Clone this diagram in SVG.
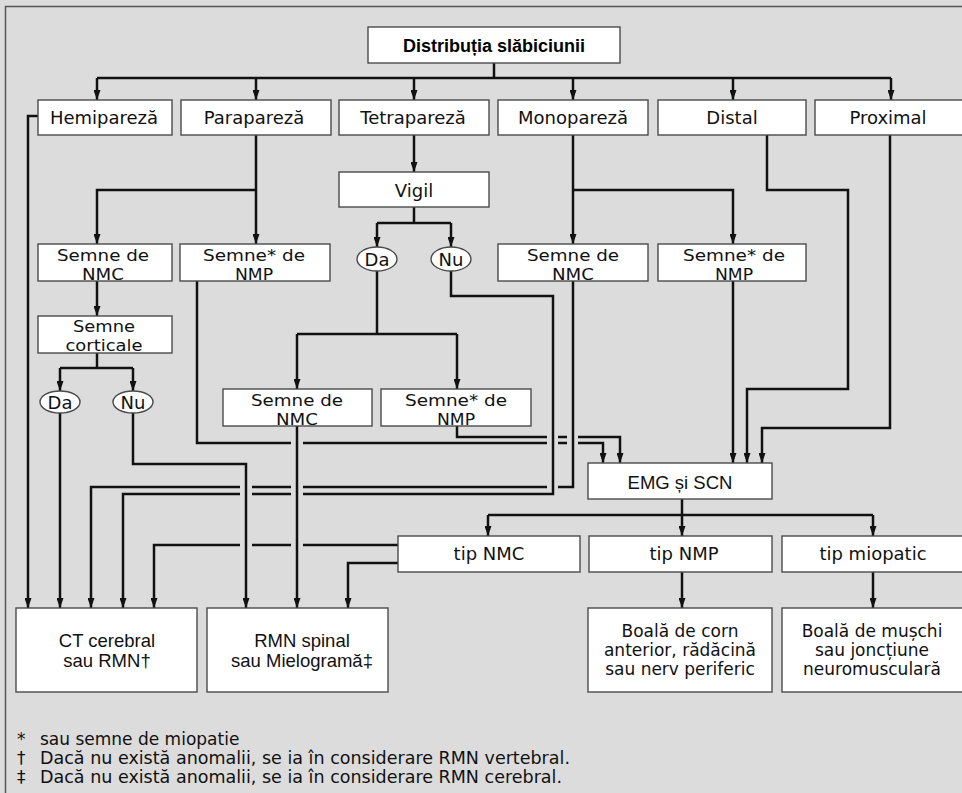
<svg xmlns="http://www.w3.org/2000/svg" width="962" height="793" viewBox="0 0 962 793">
  <style>
    .box { fill: #ffffff; stroke: #4a4a4a; stroke-width: 1.4; }
    .oval { fill: #ffffff; stroke: #4a4a4a; stroke-width: 1.4; }
    .t { font-family: "DejaVu Sans", sans-serif; font-size: 18px; fill: #111; text-anchor: middle; }
    .t2 { font-family: "DejaVu Sans", sans-serif; font-size: 17px; fill: #111; text-anchor: middle; }
    .t3 { font-family: "DejaVu Sans", sans-serif; font-size: 16px; fill: #111; text-anchor: middle; }
    .h { font-family: "Liberation Sans", Arial, sans-serif; font-size: 18.5px; fill: #111; text-anchor: middle; }
    .title { font-family: "Liberation Sans", Arial, sans-serif; font-size: 18px; font-weight: bold; fill: #000; text-anchor: middle; }
    .note { font-family: "DejaVu Sans", sans-serif; font-size: 17px; fill: #111; }
    .ln { fill: none; stroke: #111; stroke-width: 2.5; stroke-linejoin: miter; }
    .ar { marker-end: url(#ah); }
  </style>
  <defs>
    <marker id="ah" markerUnits="userSpaceOnUse" markerWidth="10" markerHeight="7" viewBox="0 0 10 7" refX="10" refY="3.5" orient="auto">
      <path d="M0,0 L10,3.5 L0,7 z" fill="#111"/>
    </marker>
  </defs>

  <!-- background and frame -->
  <rect x="0" y="0" width="962" height="793" fill="#dcdcdc"/>
  <path d="M5.5,800 V6.5 H962" fill="none" stroke="#555" stroke-width="1.5"/>

  <!-- connectors -->
  <g id="connectors">
    <!-- top distribution bus -->
    <path class="ln" d="M494,63 V78 M97,78 H891"/>
    <path class="ln ar" d="M97,78 V100"/>
    <path class="ln ar" d="M256,78 V100"/>
    <path class="ln ar" d="M414,78 V100"/>
    <path class="ln ar" d="M573,78 V100"/>
    <path class="ln ar" d="M733,78 V100"/>
    <path class="ln ar" d="M891,78 V100"/>

    <!-- Hemipareza -->
    <path class="ln ar" d="M38,116 H28 V608"/>

    <!-- Parapareza -->
    <path class="ln ar" d="M256,135 V244"/>
    <path class="ln ar" d="M256,190 H97 V244"/>
    <path class="ln ar" d="M97,281 V316"/>
    <path class="ln" d="M97,353 V368 M60,368 H133"/>
    <path class="ln ar" d="M60,368 V391"/>
    <path class="ln ar" d="M133,368 V391"/>
    <path class="ln ar" d="M60,413 V608"/>
    <path class="ln ar" d="M133,413 V464 H246 V608"/>

    <!-- Tetrapareza -->
    <path class="ln ar" d="M414,135 V172"/>
    <path class="ln" d="M414,207 V223 M377,223 H451"/>
    <path class="ln ar" d="M377,223 V247"/>
    <path class="ln ar" d="M451,223 V247"/>
    <path class="ln" d="M377,271 V334 M297,334 H457"/>
    <path class="ln ar" d="M297,334 V389"/>
    <path class="ln ar" d="M457,334 V389"/>
    <path class="ln ar" d="M297,426 V608"/>

    <!-- Monopareza -->
    <path class="ln ar" d="M573,135 V244"/>
    <path class="ln ar" d="M573,190 H733 V244"/>

    <!-- paths into EMG -->
    <path class="ln ar" d="M197,281 V443 H291 M303,443 H547 M558,443 H567 M578,443 H603 V463"/>
    <path class="ln ar" d="M457,426 V437 H547 M558,437 H567 M578,437 H620 V463"/>
    <path class="ln ar" d="M733,281 V463"/>
    <path class="ln ar" d="M767,135 V190 H848 V389 H747 V463"/>
    <path class="ln ar" d="M890,135 V428 H762 V463"/>

    <!-- paths into CT cerebral -->
    <path class="ln ar" d="M573,281 V487 H558 M547,487 H303 M291,487 H252 M240,487 H91 V608"/>
    <path class="ln ar" d="M451,271 V296 H553 V494 H303 M291,494 H252 M240,494 H123 V608"/>

    <!-- EMG results -->
    <path class="ln" d="M682,499 V515 M488,515 H873"/>
    <path class="ln ar" d="M488,515 V536"/>
    <path class="ln ar" d="M682,515 V536"/>
    <path class="ln ar" d="M873,515 V536"/>
    <path class="ln ar" d="M398,545 H303 M291,545 H252 M240,545 H154 V608"/>
    <path class="ln ar" d="M398,563 H348 V608"/>
    <path class="ln ar" d="M682,572 V608"/>
    <path class="ln ar" d="M873,572 V608"/>
  </g>

  <!-- nodes -->
  <g id="n-distributia">
    <rect class="box" x="368" y="27" width="252" height="36"/>
    <text class="title" x="494" y="52">Distribuția slăbiciunii</text>
  </g>

  <g id="n-hemipareza">
    <rect class="box" x="38" y="100" width="134" height="35"/>
    <text class="t" x="104" y="124">Hemipareză</text>
  </g>
  <g id="n-parapareza">
    <rect class="box" x="181" y="100" width="150" height="35"/>
    <text class="t" x="254" y="124">Parapareză</text>
  </g>
  <g id="n-tetrapareza">
    <rect class="box" x="339" y="100" width="150" height="35"/>
    <text class="t" x="413" y="124">Tetrapareză</text>
  </g>
  <g id="n-monopareza">
    <rect class="box" x="498" y="100" width="150" height="35"/>
    <text class="t" x="573" y="124">Monopareză</text>
  </g>
  <g id="n-distal">
    <rect class="box" x="658" y="100" width="148" height="35"/>
    <text class="t" x="732" y="124">Distal</text>
  </g>
  <g id="n-proximal">
    <rect class="box" x="815" y="100" width="152" height="35"/>
    <text class="t" x="888" y="124">Proximal</text>
  </g>

  <g id="n-vigil">
    <rect class="box" x="339" y="172" width="150" height="35"/>
    <text class="t" x="414" y="197">Vigil</text>
  </g>
  <g id="n-vigil-da">
    <ellipse class="oval" cx="377" cy="259" rx="20" ry="12"/>
    <text class="t" x="377" y="265.5">Da</text>
  </g>
  <g id="n-vigil-nu">
    <ellipse class="oval" cx="451" cy="259" rx="20" ry="12"/>
    <text class="t" x="451" y="265.5">Nu</text>
  </g>

  <g id="n-para-nmc">
    <rect class="box" x="38" y="244" width="134" height="37"/>
    <text class="t3" x="103" y="260.5" textLength="92" lengthAdjust="spacingAndGlyphs">Semne de</text>
    <text class="t3" x="103" y="279.5" textLength="42" lengthAdjust="spacingAndGlyphs">NMC</text>
  </g>
  <g id="n-para-nmp">
    <rect class="box" x="180" y="244" width="150" height="37"/>
    <text class="t3" x="254" y="260.5" textLength="102" lengthAdjust="spacingAndGlyphs">Semne* de</text>
    <text class="t3" x="254" y="279.5" textLength="38" lengthAdjust="spacingAndGlyphs">NMP</text>
  </g>
  <g id="n-mono-nmc">
    <rect class="box" x="498" y="244" width="150" height="37"/>
    <text class="t3" x="573" y="260.5" textLength="92" lengthAdjust="spacingAndGlyphs">Semne de</text>
    <text class="t3" x="573" y="279.5" textLength="42" lengthAdjust="spacingAndGlyphs">NMC</text>
  </g>
  <g id="n-mono-nmp">
    <rect class="box" x="658" y="244" width="148" height="37"/>
    <text class="t3" x="734" y="260.5" textLength="102" lengthAdjust="spacingAndGlyphs">Semne* de</text>
    <text class="t3" x="734" y="279.5" textLength="38" lengthAdjust="spacingAndGlyphs">NMP</text>
  </g>

  <g id="n-corticale">
    <rect class="box" x="38" y="316" width="134" height="37"/>
    <text class="t3" x="104" y="331.5" textLength="62" lengthAdjust="spacingAndGlyphs">Semne</text>
    <text class="t3" x="104" y="350.5" textLength="77" lengthAdjust="spacingAndGlyphs">corticale</text>
  </g>
  <g id="n-cort-da">
    <ellipse class="oval" cx="60" cy="402" rx="20" ry="11"/>
    <text class="t" x="60" y="408.5">Da</text>
  </g>
  <g id="n-cort-nu">
    <ellipse class="oval" cx="133" cy="402" rx="20" ry="11"/>
    <text class="t" x="133" y="408.5">Nu</text>
  </g>

  <g id="n-tetra-nmc">
    <rect class="box" x="223" y="389" width="149" height="37"/>
    <text class="t3" x="297" y="405.5" textLength="92" lengthAdjust="spacingAndGlyphs">Semne de</text>
    <text class="t3" x="297" y="424.5" textLength="42" lengthAdjust="spacingAndGlyphs">NMC</text>
  </g>
  <g id="n-tetra-nmp">
    <rect class="box" x="381" y="389" width="150" height="37"/>
    <text class="t3" x="456" y="405.5" textLength="102" lengthAdjust="spacingAndGlyphs">Semne* de</text>
    <text class="t3" x="456" y="424.5" textLength="38" lengthAdjust="spacingAndGlyphs">NMP</text>
  </g>

  <g id="n-emg">
    <rect class="box" x="588" y="463" width="184" height="36"/>
    <text class="h" x="680" y="489">EMG și SCN</text>
  </g>

  <g id="n-tip-nmc">
    <rect class="box" x="398" y="536" width="182" height="36"/>
    <text class="t" x="489" y="560">tip NMC</text>
  </g>
  <g id="n-tip-nmp">
    <rect class="box" x="589" y="536" width="183" height="36"/>
    <text class="t" x="684" y="560">tip NMP</text>
  </g>
  <g id="n-tip-miopatic">
    <rect class="box" x="782" y="536" width="185" height="36"/>
    <text class="t" x="873" y="560">tip miopatic</text>
  </g>

  <g id="n-ct">
    <rect class="box" x="16" y="608" width="181" height="84"/>
    <text class="h" x="107" y="647">CT cerebral</text>
    <text class="h" x="107" y="667">sau RMN†</text>
  </g>
  <g id="n-rmn">
    <rect class="box" x="207" y="608" width="181" height="84"/>
    <text class="h" x="302" y="647">RMN spinal</text>
    <text class="h" x="302" y="667">sau Mielogramă‡</text>
  </g>
  <g id="n-corn">
    <rect class="box" x="588" y="608" width="184" height="84"/>
    <text class="t2" x="680" y="637">Boală de corn</text>
    <text class="t2" x="680" y="656">anterior, rădăcină</text>
    <text class="t2" x="680" y="675">sau nerv periferic</text>
  </g>
  <g id="n-muschi">
    <rect class="box" x="782" y="608" width="185" height="84"/>
    <text class="t2" x="872" y="637">Boală de mușchi</text>
    <text class="t2" x="872" y="656">sau joncțiune</text>
    <text class="t2" x="872" y="675">neuromusculară</text>
  </g>

  <!-- footnotes -->
  <g id="footnotes">
    <text class="note" x="17" y="745">*</text>
    <text class="note" x="40" y="745">sau semne de miopatie</text>
    <text class="note" x="17" y="764">†</text>
    <text class="note" x="40" y="764" textLength="530" lengthAdjust="spacingAndGlyphs">Dacă nu există anomalii, se ia în considerare RMN vertebral.</text>
    <text class="note" x="17" y="783">‡</text>
    <text class="note" x="40" y="783" textLength="522" lengthAdjust="spacingAndGlyphs">Dacă nu există anomalii, se ia în considerare RMN cerebral.</text>
  </g>
</svg>
